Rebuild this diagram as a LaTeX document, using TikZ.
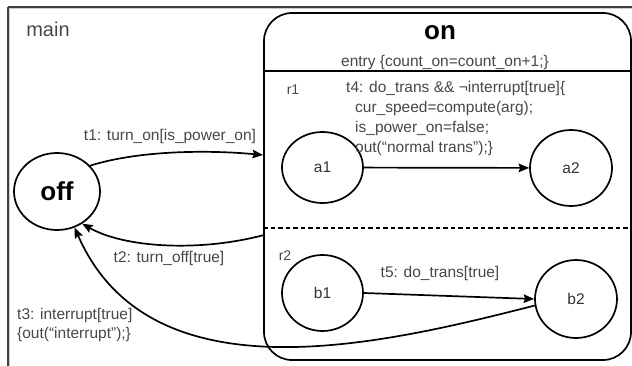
\documentclass[tikz,border=0pt]{standalone}
\usepackage{fontspec}
\setmainfont{Liberation Sans}
\usetikzlibrary{shapes.geometric,arrows.meta}
\tikzset{
  lbl/.style={font=\fontsize{15.5}{19.7}\selectfont, text=black!72, inner sep=0pt},
  stnode/.style={draw, ellipse, line width=1.7pt, inner sep=0pt, text=black!80, font=\fontsize{15.5}{19}\selectfont},
  arr/.style={line width=1.7pt, -{Stealth[length=10.5pt,width=8.5pt,inset=1.5pt]}},
  ln/.style={line width=1.6pt},
}
\begin{document}
\begin{tikzpicture}[x=1pt,y=-1pt]
\useasboundingbox (0,0) rectangle (632,366);
\clip (0,0) rectangle (632,366);
% outer frame
\draw[gray!40, line width=1pt] (9.5,8.5) -- (640,8.5);
\draw[gray!40, line width=1pt] (9.5,8.5) -- (9.5,370);
\draw[black!75, line width=1.2pt] (8,7) -- (640,7);
\draw[black!75, line width=1.2pt] (8,7) -- (8,370);
\node[lbl, font=\fontsize{20}{24}\selectfont] (main) at (48,29) {main};
% composite state on
\node[draw, line width=1.7pt, rounded corners=28pt, minimum width=367pt, minimum height=347pt, inner sep=0pt] (onbox) at (447.5,186.5) {};
\node[font=\fontsize{26}{30}\selectfont\bfseries, inner sep=0pt] (ontitle) at (440,33) {on};
\node[lbl] (entry) at (445,62) {entry \{count\_on=count\_on+1;\}};
\draw[ln] (onbox.west |- 0,71) -- (onbox.east |- 0,71);
\draw[line width=1.5pt, dash pattern=on 4.5pt off 3pt] (onbox.west |- 0,228) -- (onbox.east |- 0,228);
\node[lbl, font=\fontsize{14}{17}\selectfont] (r1) at (293,90) {r1};
\node[lbl, font=\fontsize{14}{17}\selectfont] (r2) at (285,256) {r2};
% states
\node[stnode, minimum width=86pt, minimum height=77pt, text=black, font=\fontsize{26}{30}\selectfont\bfseries] (off) at (57,191.5) {off};
\node[stnode, minimum width=81pt, minimum height=71pt] (a1) at (322.5,167.5) {a1};
\node[stnode, minimum width=82pt, minimum height=76pt] (a2) at (571,168) {a2};
\node[stnode, minimum width=81pt, minimum height=76pt] (b1) at (322.5,293) {b1};
\node[stnode, minimum width=82pt, minimum height=78pt] (b2) at (576,299) {b2};
% connector end points on the composite border
\coordinate (t1end) at (263,155);
\coordinate (t2start) at (264,235);
% transitions
\draw[arr] (off.38) .. controls (140,150) and (210,150) .. (t1end);
\node[lbl] (t1) at (170,136) {t1: turn\_on[is\_power\_on]};
\draw[arr] (t2start) .. controls (200,252) and (125,248) .. (off.-52);
\node[lbl] (t2) at (169,258) {t2: turn\_off[true]};
\draw[arr] (b2.-171) .. controls (380,345) and (150,400) .. (off.-64);
\node[lbl, anchor=west, align=left] (t3) at (17,325) {t3: interrupt[true]\\\{out(“interrupt”);\}};
\draw[arr] (a1) -- (a2);
\node[lbl, anchor=north west, align=left] (t4) at (346,81.5) {t4: do\_trans \&\& ¬interrupt[true]\{\\\hspace*{9pt}cur\_speed=compute(arg);\\\hspace*{9pt}is\_power\_on=false;\\\hspace*{9pt}out(“normal trans”);\}};
\draw[arr] (b1.east) -- (b2.west);
\node[lbl] (t5) at (440,273) {t5: do\_trans[true]};
\end{tikzpicture}
\end{document}
